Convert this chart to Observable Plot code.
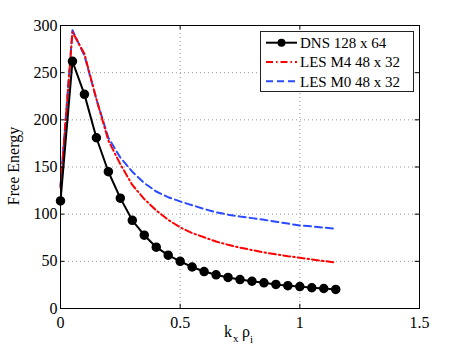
<!DOCTYPE html>
<html><head><meta charset="utf-8">
<script src="https://cdn.jsdelivr.net/npm/d3@7"></script>
<script src="https://cdn.jsdelivr.net/npm/@observablehq/plot@0.6"></script>
<style>
body{margin:0;background:#fff}
svg text{font-family:"Liberation Serif","Times New Roman",Times,serif !important;font-variant-numeric:normal !important}
</style>
</head><body><div id="chart"></div>
<script>
const kx = [0,0.05,0.1,0.15,0.2,0.25,0.3,0.35,0.4,0.45,0.5,0.55,0.6,0.65,0.7,0.75,0.8,0.85,0.9,0.95,1.0,1.05,1.1,1.15];
const dns = [114,262,227,181,145,117,93.5,77.7,65,56.5,50,44,39.2,35.7,32.9,30.7,28.9,27.2,25.5,24.2,23.2,22,21.2,20.2];
const lesM4 = [128,293,270,222,178,153,131,116,104,94,86,80,75.5,71,67.5,64.5,62,59.5,57.5,55.5,53.8,52,50.3,48.8];
const lesM0 = [130,295,268,222,181,160,145,133,124,118,113.5,109.5,105.5,102,99.5,97.5,95.8,94,92,90,88,87,85.7,84.5];
const seriesNames = ["DNS 128 x 64","LES M4 48 x 32","LES M0 48 x 32"];
const xTicks = [0,0.5,1,1.5];
const yTicks = [0,50,100,150,200,250,300];
const xGrid = [0.5,1];
const yGrid = [50,100,150,200,250];

const rows = (vals) => kx.map((k,i)=>({k, v: vals[i]}));
const F = "'Liberation Serif','Times New Roman',Times,serif";
const RED = "#ff0000", BLUE = "#2a4bff";

const plot = Plot.plot({
  width: 463, height: 349,
  marginLeft: 60, marginRight: 44, marginTop: 25, marginBottom: 41,
  style: {fontFamily: F, fontSize: "16px", background: "white", color: "black"},
  x: {domain: [0,1.5]},
  y: {domain: [0,300]},
  marks: [
    Plot.ruleX(xGrid, {stroke: "#999", strokeDasharray: "1,3", strokeWidth: 1}),
    Plot.ruleY(yGrid, {stroke: "#999", strokeDasharray: "1,3", strokeWidth: 1}),
    Plot.lineY(rows(lesM0), {x: "k", y: "v", stroke: BLUE, strokeWidth: 2, strokeDasharray: "7,4"}),
    Plot.lineY(rows(lesM4), {x: "k", y: "v", stroke: RED, strokeWidth: 2, strokeDasharray: "7,3,1.5,3"}),
    Plot.lineY(rows(dns), {x: "k", y: "v", stroke: "black", strokeWidth: 2}),
    Plot.dot(rows(dns), {x: "k", y: "v", r: 4, fill: "black", stroke: "black"}),
    Plot.ruleX(xTicks, {y1: 0, y2: 4.5, stroke: "black"}),
    Plot.ruleX(xTicks, {y1: 300, y2: 295.5, stroke: "black"}),
    Plot.ruleY(yTicks, {x1: 0, x2: 0.018, stroke: "black"}),
    Plot.ruleY(yTicks, {x1: 1.5, x2: 1.482, stroke: "black"}),
    Plot.frame({stroke: "black", strokeWidth: 1}),
    Plot.axisX({ticks: xTicks, tickFormat: d => String(d), tickSize: 0, tickPadding: 8, label: null, fontSize: 16}),
    Plot.axisY({ticks: yTicks, tickFormat: d => String(d), tickSize: 0, tickPadding: 3, label: null, fontSize: 16})
  ]
});

const svg = d3.select(plot);
// y label
svg.append("text")
  .attr("transform", "translate(19,166) rotate(-90)")
  .attr("text-anchor", "middle")
  .attr("font-size", 16).attr("fill", "black")
  .text("Free Energy");
// x label
const xl = svg.append("text").attr("font-size", 16)
  .attr("fill", "black").attr("text-anchor", "start");
xl.append("tspan").attr("x", 224).attr("y", 337).text("k");
xl.append("tspan").attr("x", 233).attr("y", 342).attr("font-size", 11).text("x");
xl.append("tspan").attr("x", 242).attr("y", 337).text("ρ");
xl.append("tspan").attr("x", 250).attr("y", 343).attr("font-size", 11).text("i");

// legend
const lg = svg.append("g");
lg.append("rect").attr("x", 260.5).attr("y", 31.5).attr("width", 153).attr("height", 60)
  .attr("fill", "white").attr("stroke", "#222").attr("stroke-width", 1);
const rowsY = [42.7, 62, 81.2];
const styles = [
  {stroke: "black", dash: null, dot: true},
  {stroke: RED, dash: "7,3,1.5,3", dot: false},
  {stroke: BLUE, dash: "7,4", dot: false}
];
seriesNames.forEach((name, i) => {
  const y = rowsY[i];
  const ln = lg.append("line").attr("x1", 266).attr("x2", 297).attr("y1", y).attr("y2", y)
    .attr("stroke", styles[i].stroke).attr("stroke-width", 2);
  if (styles[i].dash) ln.attr("stroke-dasharray", styles[i].dash);
  if (styles[i].dot) lg.append("circle").attr("cx", 281.5).attr("cy", y).attr("r", 4).attr("fill", "black");
  lg.append("text").attr("x", 300).attr("y", y + 5.3).attr("text-anchor", "start")
    .attr("font-size", 15).attr("fill", "black").text(name);
});

document.getElementById("chart").appendChild(plot);
</script>
</body></html>
